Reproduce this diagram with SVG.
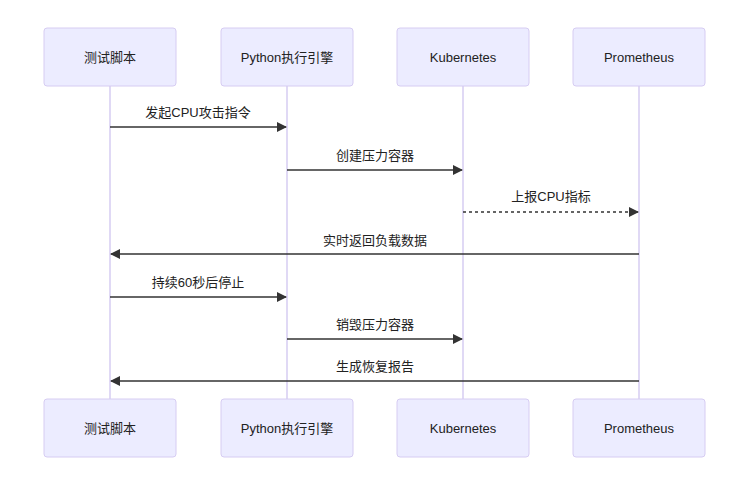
<svg xmlns="http://www.w3.org/2000/svg" width="750" height="486" viewBox="0 0 750 486">
<style>
.box{fill:#ECECFF;stroke:#D6CCF2;stroke-width:1}
.life{stroke:#D6CCF2;stroke-width:1.5}
.t{font-family:"Liberation Sans","Noto Sans CJK SC",sans-serif;font-size:13px;fill:#222;text-anchor:middle;dominant-baseline:central}
.m{stroke:#333;stroke-width:1.3;fill:none}
.d{stroke-dasharray:3,3}
</style>
<defs><marker id="a" markerWidth="10" markerHeight="10" refX="9" refY="5" orient="auto" markerUnits="userSpaceOnUse"><path d="M0,0L10,5L0,10z" fill="#333"/></marker></defs>
<g id="lifelines">
<line class="life" x1="110" y1="86" x2="110" y2="399"/><line class="life" x1="287" y1="86" x2="287" y2="399"/><line class="life" x1="463" y1="86" x2="463" y2="399"/><line class="life" x1="639" y1="86" x2="639" y2="399"/>
</g>
<g id="n1"><rect class="box" x="44" y="28" width="132" height="58" rx="3"/><text class="t" x="110" y="57">测试脚本</text><rect class="box" x="44" y="399" width="132" height="58" rx="3"/><text class="t" x="110" y="428">测试脚本</text></g>
<g id="n2"><rect class="box" x="221" y="28" width="132" height="58" rx="3"/><text class="t" x="287" y="57">Python执行引擎</text><rect class="box" x="221" y="399" width="132" height="58" rx="3"/><text class="t" x="287" y="428">Python执行引擎</text></g>
<g id="n3"><rect class="box" x="397" y="28" width="132" height="58" rx="3"/><text class="t" x="463" y="57">Kubernetes</text><rect class="box" x="397" y="399" width="132" height="58" rx="3"/><text class="t" x="463" y="428">Kubernetes</text></g>
<g id="n4"><rect class="box" x="573" y="28" width="132" height="58" rx="3"/><text class="t" x="639" y="57">Prometheus</text><rect class="box" x="573" y="399" width="132" height="58" rx="3"/><text class="t" x="639" y="428">Prometheus</text></g>
<g id="connectors">
<line class="m" x1="110" y1="127" x2="286" y2="127" marker-end="url(#a)"/><text class="t" x="198" y="112">发起CPU攻击指令</text>
<line class="m" x1="287" y1="170" x2="462" y2="170" marker-end="url(#a)"/><text class="t" x="375" y="155">创建压力容器</text>
<line class="m d" x1="463" y1="212" x2="638" y2="212" marker-end="url(#a)"/><text class="t" x="551" y="196">上报CPU指标</text>
<line class="m" x1="639" y1="254" x2="111" y2="254" marker-end="url(#a)"/><text class="t" x="375" y="240">实时返回负载数据</text>
<line class="m" x1="110" y1="297" x2="286" y2="297" marker-end="url(#a)"/><text class="t" x="198" y="282">持续60秒后停止</text>
<line class="m" x1="287" y1="339" x2="462" y2="339" marker-end="url(#a)"/><text class="t" x="375" y="324">销毁压力容器</text>
<line class="m" x1="639" y1="381" x2="111" y2="381" marker-end="url(#a)"/><text class="t" x="375" y="366">生成恢复报告</text>
</g>
</svg>
